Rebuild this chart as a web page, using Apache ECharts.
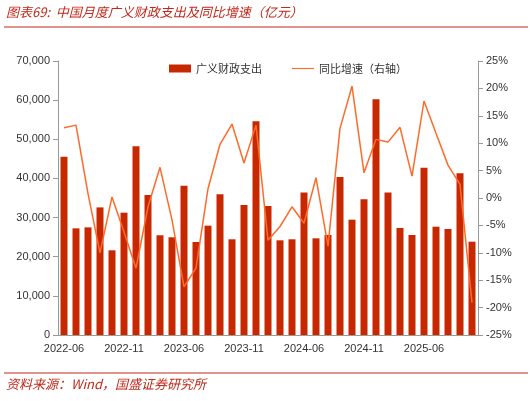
<!DOCTYPE html><html><head><meta charset="utf-8"><script src="https://cdn.jsdelivr.net/npm/echarts@6/dist/echarts.min.js"></script>
<style>body{margin:0}#c{width:532px;height:401px}</style></head><body><div id="c"></div><script>
const categories=['2022-06','2022-07','2022-08','2022-09','2022-10','2022-11','2022-12','2023-03','2023-04','2023-05','2023-06','2023-07','2023-08','2023-09','2023-10','2023-11','2023-12','2024-03','2024-04','2024-05','2024-06','2024-07','2024-08','2024-09','2024-10','2024-11','2024-12','2025-03','2025-04','2025-05','2025-06','2025-07','2025-08','2025-09','2025-10'];
const spending=[45550,27250,27500,32600,21640,31250,48200,35770,25470,24960,38150,23760,27930,35940,24450,33210,54590,32960,24190,24450,36390,24700,25550,40370,29460,34670,60200,36390,27330,25550,42740,27670,27080,41300,23840];
const growth=[12.8,13.3,0.8,-10.0,0.2,-6.2,-12.8,-1.6,5.6,-4.0,-16.2,-12.8,1.7,9.8,13.5,6.4,13.3,-7.7,-5.2,-1.6,-4.6,3.7,-8.8,12.7,20.4,4.6,10.7,10.2,12.9,4.0,17.7,11.8,6.0,2.5,-19.1];
const red='#c0291b';
const ch=echarts.init(document.getElementById('c'));
const axLine={show:true,lineStyle:{color:'#999'}};
const lbl={color:'#333',fontSize:11,fontFamily:'Liberation Sans'};
ch.setOption({
animation:false,
graphic:[
{type:'text',left:6,top:6,style:{text:'图表69:  中国月度广义财政支出及同比增速（亿元）',fill:red,font:'italic 13px "Noto Sans CJK SC"'}},
{type:'line',shape:{x1:4,y1:27,x2:528,y2:27},style:{stroke:red,lineWidth:1}},
{type:'line',shape:{x1:4,y1:373,x2:528,y2:373},style:{stroke:red,lineWidth:1}},
{type:'text',left:6,top:378,style:{text:'资料来源：Wind，国盛证券研究所',fill:red,font:'italic 13px "Noto Sans CJK SC"'}}
],
legend:{top:58,left:164,itemGap:30,itemWidth:22,itemHeight:8,textStyle:{fontSize:11,color:'#333',fontFamily:'Noto Sans CJK SC'},data:[{name:'广义财政支出',icon:'rect'},{name:'同比增速（右轴）',icon:'path://M0,0H24V1.2H0Z'}]},
grid:{left:58,right:54,top:61,bottom:66},
xAxis:{type:'category',data:categories,axisLine:axLine,axisTick:{show:false},axisLabel:Object.assign({interval:4},lbl)},
yAxis:[{type:'value',min:0,max:70000,interval:10000,axisLine:axLine,axisTick:{show:true,lineStyle:{color:'#999'}},splitLine:{show:false},axisLabel:Object.assign({formatter:v=>v.toLocaleString('en-US')},lbl)},
{type:'value',min:-25,max:25,interval:5,axisLine:axLine,axisTick:{show:true,lineStyle:{color:'#999'}},splitLine:{show:false},axisLabel:Object.assign({formatter:v=>v+'%'},lbl)}],
series:[{name:'广义财政支出',type:'bar',data:spending,barWidth:7,itemStyle:{color:'#c82800'}},
{name:'同比增速（右轴）',type:'line',yAxisIndex:1,data:growth,symbol:'none',lineStyle:{color:'#ff6a2a',width:1.5},itemStyle:{color:'#ff6a2a'}}]
});
</script></body></html>
